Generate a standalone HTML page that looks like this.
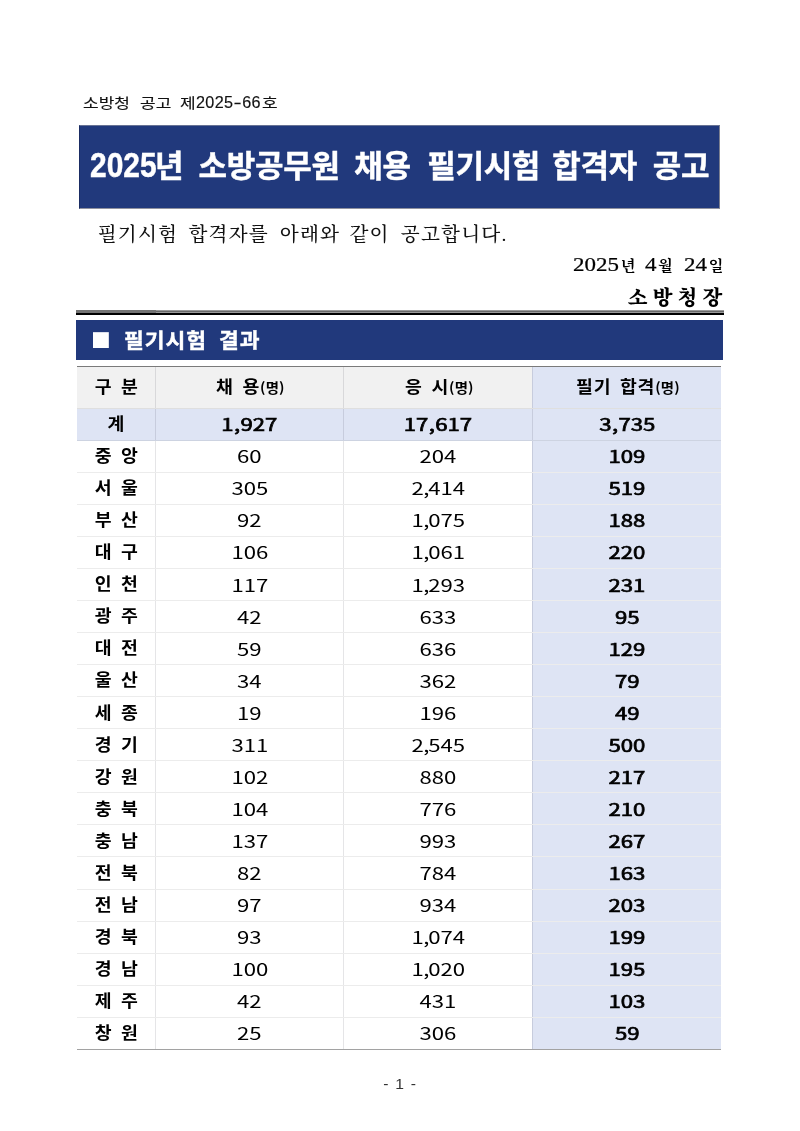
<!DOCTYPE html>
<html lang="ko">
<head>
<meta charset="utf-8">
<title>2025년 소방공무원 채용 필기시험 합격자 공고</title>
<style>
*{margin:0;padding:0;box-sizing:border-box}
html,body{width:800px;height:1131px;background:#fff;overflow:hidden}
body{font-family:"Liberation Sans","Noto Sans CJK KR",sans-serif;color:#000}
.page{position:relative;width:800px;height:1131px;background:#fff;overflow:hidden}
.notice-no{position:absolute;left:0;top:91px;line-height:22px;white-space:nowrap;font-size:14.2px;font-family:"Noto Sans CJK KR",sans-serif;font-weight:400;color:#111;-webkit-text-stroke:.15px #111}
.nw{display:inline-block;line-height:22px;white-space:nowrap;vertical-align:baseline;transform-origin:0 0;transform:scaleX(1.2)}
.nw0{margin-left:83.00px}.nw1{margin-left:14.14px}.nw2{margin-left:9.82px}.nw3{margin-left:0.71px}
.nw.nd{margin-left:2.75px;position:relative;top:0px;font-family:"Liberation Sans",sans-serif;font-size:16.2px;transform:none;letter-spacing:.35px}
.hy{display:inline-block;transform:scaleX(1.5);margin:0 1.5px}
.title-bar{position:absolute;left:79px;top:125px;width:641px;height:84px;background:#21397c;background-clip:padding-box;border-top:1px solid rgba(22,38,90,.65);border-left:1px solid #1a2c63;border-right:1px solid rgba(70,74,96,.7);border-bottom:1px solid rgba(70,74,96,.6)}
.title{position:absolute;left:0;top:141px;line-height:46px;white-space:nowrap;font-size:31px;font-weight:700;color:#fff;font-family:"Noto Sans CJK KR",sans-serif}
.tw{display:inline-block;line-height:46px;white-space:nowrap;letter-spacing:-.3px;-webkit-text-stroke:.45px #fff}
.tw .dg{display:inline-block;font-family:"Liberation Sans",sans-serif;font-size:34.2px;line-height:46px;vertical-align:baseline;transform-origin:0 50%;transform:scaleX(.875);margin-right:-10.5px;letter-spacing:0}
.tw0{margin-left:89.50px}.tw1{margin-left:6.52px}.tw2{margin-left:6.00px}.tw3{margin-left:7.76px}.tw4{margin-left:3.53px}.tw5{margin-left:7.06px}
.lead{position:absolute;left:0;top:220px;line-height:30px;white-space:nowrap;font-family:"Liberation Serif","Noto Serif CJK SC",serif;font-size:19.6px;font-weight:500;color:#111}
.bw{display:inline-block;line-height:30px;white-space:nowrap;letter-spacing:1.2px}
.bw0{margin-left:97.70px}.bw1{margin-left:5.39px}.bw2{margin-left:5.89px}.bw3{margin-left:4.42px}.bw4{margin-left:6.14px}
.date{position:absolute;left:0;top:251px;line-height:28px;white-space:nowrap;font-family:"Liberation Serif","Noto Serif CJK SC",serif;font-size:15.3px;font-weight:700;color:#000}
.dw{display:inline-block;line-height:28px;white-space:nowrap}
.dd{display:inline-block;font-size:18.3px;font-weight:400;-webkit-text-stroke:.22px #000;transform-origin:0 50%;transform:scaleX(1.256);vertical-align:baseline}
.d4{margin-right:11.2px}.d1{margin-right:3.3px}.d2{margin-right:6.6px}
.dw0{margin-left:573.00px}.dw1{margin-left:6.14px}.dw2{margin-left:7.07px}
.signer{position:absolute;left:627.8px;top:281.5px;font-family:"Liberation Serif","Noto Serif CJK SC",serif;font-weight:900;font-size:20.5px;line-height:32px;letter-spacing:5.1px;white-space:nowrap}
.rule{position:absolute;left:75.5px;top:310px;width:648px;height:5px}
.rule i{position:absolute;top:0;height:4.6px;display:block}
.ra{left:0;width:80.5px;background:linear-gradient(#737373 0,#737373 2.8px,#000 2.8px,#000 100%)}
.rb{left:80.5px;right:0;background:linear-gradient(#999 0,#999 1px,#686868 1px,#686868 2px,#999 2px,#999 3px,#000 3px,#000 100%)}
.section{position:absolute;left:75.5px;top:319.5px;width:647.5px;height:40px;background:#21397c}

.sec-text{position:absolute;left:0;top:3.5px;line-height:32px;white-space:nowrap;font-size:20.5px;font-weight:700;color:#fff;font-family:"Noto Sans CJK KR",sans-serif}
.sec-text span{display:inline-block;line-height:32px;white-space:nowrap;transform-origin:0 0;transform:scaleX(1.05);letter-spacing:.9px;-webkit-text-stroke:.4px #fff}
.sec-text span.sq{margin-left:15.60px;font-size:19.8px;transform:none;letter-spacing:0;-webkit-text-stroke:0;position:relative;top:0px}.sw0{margin-left:6.86px}.sw1{margin-left:10.70px}
.tbl{position:absolute;left:77px;top:366px;width:643.7px;border-top:1px solid #7a7a7a;font-family:"Noto Sans CJK KR",sans-serif}
.tr{display:flex;height:32.064px;border-bottom:1px solid rgba(0,0,0,.075);background:#fff}
.tr.th{height:41.6px;background:#f1f1f1}
.tr.tot{background:#dee4f4}
.tr:last-child{border-bottom:1px solid #a2a2a2}
.c{height:100%;display:flex;align-items:center;justify-content:center;border-left:1px solid rgba(0,0,20,.1);white-space:nowrap}
.c0{width:77.6px;border-left:none}
.c1{width:188.8px}
.c2{width:189px}
.c3{flex:1;background:#dee4f4}
.h{display:inline-block;font-weight:700;font-size:17.3px;letter-spacing:.7px;word-spacing:2.7px;line-height:1;margin-right:-.7px;position:relative;top:-1.5px;left:.6px;transform:scaleX(1.06)}
.h small{font-size:13.6px;font-weight:700;letter-spacing:.2px;word-spacing:0}
.n{display:inline-block;position:relative;top:.5px;font-size:16.8px;line-height:1;transform:scaleX(1.32)}
.n.b,.tot .n{font-weight:400;-webkit-text-stroke:.65px #000;transform:scaleX(1.32)}
.n.b .cm,.tot .cm{margin:0 .3px 0 .3px}
.cm{margin-left:-.5px;margin-right:-.9px}
.pageno{position:absolute;left:-.6px;width:800px;top:1073.5px;text-align:center;font-size:14px;line-height:20px;font-family:"Liberation Sans",sans-serif;color:#333}
.pageno span{display:inline-block;word-spacing:2.2px;transform:scaleX(1.12)}
</style>
</head>
<body>
<div class="page">
<div class="notice-no"><span class="nw nw0">소방청</span> <span class="nw nw1">공고</span> <span class="nw nw2">제</span><span class="nw nd">2025<span class="hy">-</span>66</span><span class="nw nw3">호</span></div>
<div class="title-bar"></div>
<h1 class="title"><span class="tw tw0"><span class="dg">2025</span>년</span> <span class="tw tw1">소방공무원</span> <span class="tw tw2">채용</span> <span class="tw tw3">필기시험</span> <span class="tw tw4">합격자</span> <span class="tw tw5">공고</span></h1>
<p class="lead"><span class="bw bw0">필기시험</span> <span class="bw bw1">합격자를</span> <span class="bw bw2">아래와</span> <span class="bw bw3">같이</span> <span class="bw bw4">공고합니다.</span></p>
<div class="date"><span class="dw dw0"><span class="dd d4">2025</span>년</span> <span class="dw dw1"><span class="dd d1">4</span>월</span> <span class="dw dw2"><span class="dd d2">24</span>일</span></div>
<div class="signer">소방청장</div>
<div class="rule"><i class="ra"></i><i class="rb"></i></div>
<div class="section"><h2 class="sec-text"><span class="sq">■</span> <span class="sw0">필기시험</span> <span class="sw1">결과</span></h2></div>
<div class="tbl">
<div class="tr th"><div class="c c0"><span class="h">구 분</span></div><div class="c c1"><span class="h">채 용<small>(명)</small></span></div><div class="c c2"><span class="h">응 시<small>(명)</small></span></div><div class="c c3"><span class="h">필기 합격<small>(명)</small></span></div></div>
<div class="tr tot"><div class="c c0"><span class="h">계</span></div><div class="c c1"><span class="n">1<span class="cm">,</span>927</span></div><div class="c c2"><span class="n">17<span class="cm">,</span>617</span></div><div class="c c3"><span class="n b">3<span class="cm">,</span>735</span></div></div>
<div class="tr"><div class="c c0"><span class="h">중 앙</span></div><div class="c c1"><span class="n">60</span></div><div class="c c2"><span class="n">204</span></div><div class="c c3"><span class="n b">109</span></div></div>
<div class="tr"><div class="c c0"><span class="h">서 울</span></div><div class="c c1"><span class="n">305</span></div><div class="c c2"><span class="n">2<span class="cm">,</span>414</span></div><div class="c c3"><span class="n b">519</span></div></div>
<div class="tr"><div class="c c0"><span class="h">부 산</span></div><div class="c c1"><span class="n">92</span></div><div class="c c2"><span class="n">1<span class="cm">,</span>075</span></div><div class="c c3"><span class="n b">188</span></div></div>
<div class="tr"><div class="c c0"><span class="h">대 구</span></div><div class="c c1"><span class="n">106</span></div><div class="c c2"><span class="n">1<span class="cm">,</span>061</span></div><div class="c c3"><span class="n b">220</span></div></div>
<div class="tr"><div class="c c0"><span class="h">인 천</span></div><div class="c c1"><span class="n">117</span></div><div class="c c2"><span class="n">1<span class="cm">,</span>293</span></div><div class="c c3"><span class="n b">231</span></div></div>
<div class="tr"><div class="c c0"><span class="h">광 주</span></div><div class="c c1"><span class="n">42</span></div><div class="c c2"><span class="n">633</span></div><div class="c c3"><span class="n b">95</span></div></div>
<div class="tr"><div class="c c0"><span class="h">대 전</span></div><div class="c c1"><span class="n">59</span></div><div class="c c2"><span class="n">636</span></div><div class="c c3"><span class="n b">129</span></div></div>
<div class="tr"><div class="c c0"><span class="h">울 산</span></div><div class="c c1"><span class="n">34</span></div><div class="c c2"><span class="n">362</span></div><div class="c c3"><span class="n b">79</span></div></div>
<div class="tr"><div class="c c0"><span class="h">세 종</span></div><div class="c c1"><span class="n">19</span></div><div class="c c2"><span class="n">196</span></div><div class="c c3"><span class="n b">49</span></div></div>
<div class="tr"><div class="c c0"><span class="h">경 기</span></div><div class="c c1"><span class="n">311</span></div><div class="c c2"><span class="n">2<span class="cm">,</span>545</span></div><div class="c c3"><span class="n b">500</span></div></div>
<div class="tr"><div class="c c0"><span class="h">강 원</span></div><div class="c c1"><span class="n">102</span></div><div class="c c2"><span class="n">880</span></div><div class="c c3"><span class="n b">217</span></div></div>
<div class="tr"><div class="c c0"><span class="h">충 북</span></div><div class="c c1"><span class="n">104</span></div><div class="c c2"><span class="n">776</span></div><div class="c c3"><span class="n b">210</span></div></div>
<div class="tr"><div class="c c0"><span class="h">충 남</span></div><div class="c c1"><span class="n">137</span></div><div class="c c2"><span class="n">993</span></div><div class="c c3"><span class="n b">267</span></div></div>
<div class="tr"><div class="c c0"><span class="h">전 북</span></div><div class="c c1"><span class="n">82</span></div><div class="c c2"><span class="n">784</span></div><div class="c c3"><span class="n b">163</span></div></div>
<div class="tr"><div class="c c0"><span class="h">전 남</span></div><div class="c c1"><span class="n">97</span></div><div class="c c2"><span class="n">934</span></div><div class="c c3"><span class="n b">203</span></div></div>
<div class="tr"><div class="c c0"><span class="h">경 북</span></div><div class="c c1"><span class="n">93</span></div><div class="c c2"><span class="n">1<span class="cm">,</span>074</span></div><div class="c c3"><span class="n b">199</span></div></div>
<div class="tr"><div class="c c0"><span class="h">경 남</span></div><div class="c c1"><span class="n">100</span></div><div class="c c2"><span class="n">1<span class="cm">,</span>020</span></div><div class="c c3"><span class="n b">195</span></div></div>
<div class="tr"><div class="c c0"><span class="h">제 주</span></div><div class="c c1"><span class="n">42</span></div><div class="c c2"><span class="n">431</span></div><div class="c c3"><span class="n b">103</span></div></div>
<div class="tr"><div class="c c0"><span class="h">창 원</span></div><div class="c c1"><span class="n">25</span></div><div class="c c2"><span class="n">306</span></div><div class="c c3"><span class="n b">59</span></div></div>
</div>
<div class="pageno"><span>- 1 -</span></div>
</div>
</body>
</html>
